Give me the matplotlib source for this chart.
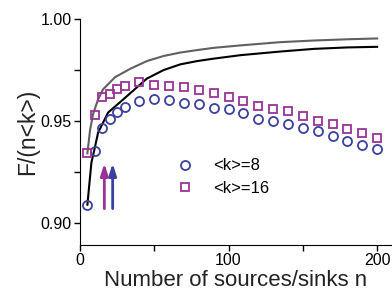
import matplotlib
matplotlib.use("Agg")
import matplotlib.pyplot as plt
from matplotlib.ticker import MultipleLocator

plt.rcParams['font.family'] = ['Liberation Sans', 'DejaVu Sans']

# <k>=8 (circles)
n8 = [5, 10, 15, 20, 25, 30, 40, 50, 60, 70, 80, 90, 100, 110, 120, 130, 140, 150, 160, 170, 180, 190, 200]
f8 = [0.9088, 0.935, 0.9463, 0.9508, 0.9543, 0.957, 0.9595, 0.9608, 0.960, 0.9588, 0.9582, 0.9562,
      0.9557, 0.9538, 0.9508, 0.950, 0.9486, 0.9466, 0.9448, 0.9423, 0.9399, 0.9382, 0.9363]

# <k>=16 (squares)
n16 = [5, 10, 15, 20, 25, 30, 40, 50, 60, 70, 80, 90, 100, 110, 120, 130, 140, 150, 160, 170, 180, 190, 200]
f16 = [0.934, 0.9529, 0.9619, 0.9629, 0.9658, 0.9673, 0.969, 0.9678, 0.9673, 0.9667, 0.9652, 0.9637,
       0.9616, 0.9598, 0.9574, 0.956, 0.9546, 0.9523, 0.9499, 0.9485, 0.946, 0.944, 0.9415]

# upper (gray) curve
n_gray = [5, 6.8, 8.8, 12.2, 15.5, 23.6, 33.8, 45, 56.3, 67.6, 78.8, 90, 108, 135, 157.6, 180, 200]
f_gray = [0.934, 0.9455, 0.9532, 0.9605, 0.9654, 0.9714, 0.9755, 0.9793, 0.9818, 0.9835, 0.9847,
          0.9858, 0.987, 0.9886, 0.9894, 0.990, 0.9904]

# lower (black) curve
n_black = [5, 7.7, 9.7, 12.2, 18.9, 27.9, 45, 56.3, 67.6, 78.8, 90, 108, 135, 157.6, 180, 200]
f_black = [0.9088, 0.9295, 0.9358, 0.9442, 0.954, 0.9597, 0.9707, 0.9749, 0.9777, 0.9793, 0.9805,
           0.9822, 0.984, 0.9853, 0.986, 0.9863]

# arrows marking n*
arrow_n = [16.4, 22.0]
arrow_colors = ["#993399", "#3b3f9e"]
arrow_from, arrow_to = 0.9055, 0.9305

blue = "#3b3f9e"
purple = "#993399"

fig = plt.figure(figsize=(3.92, 2.91), dpi=100)
ax = fig.add_axes([0.204, 0.158, 0.796, 0.777])

ax.plot(n_gray, f_gray, color="#5f6060", lw=1.5)
ax.plot(n_black, f_black, color="black", lw=1.5)
ax.plot(n8, f8, ls="none", marker="o", ms=6.5, mfc="none", mec=blue, mew=1.3, label="<k>=8")
ax.plot(n16, f16, ls="none", marker="s", ms=6, mfc="none", mec=purple, mew=1.3, label="<k>=16")

for x, c in zip(arrow_n, arrow_colors):
    ax.annotate("", xy=(x, arrow_to), xytext=(x, arrow_from),
                arrowprops=dict(arrowstyle="-|>,head_length=0.7,head_width=0.22", color=c, lw=2))

ax.set_xlim(0, 210)
ax.set_ylim(0.889, 1.0)
ax.xaxis.set_major_locator(MultipleLocator(100))
ax.xaxis.set_minor_locator(MultipleLocator(50))
ax.yaxis.set_major_locator(MultipleLocator(0.05))
ax.yaxis.set_minor_locator(MultipleLocator(0.025))
ax.yaxis.set_major_formatter(matplotlib.ticker.FormatStrFormatter("%.2f"))
ax.tick_params(which="both", direction="out", length=4, width=1, labelsize=11.5, colors="black", pad=2)
ax.spines["top"].set_visible(False)
ax.spines["right"].set_visible(False)

ax.set_xlabel("Number of sources/sinks n", fontsize=16, color="#222222", labelpad=1)
ax.set_ylabel("F/(n<k>)", fontsize=16.5, color="#222222", labelpad=1)

ax.legend(loc="center left", bbox_to_anchor=(0.235, 0.3), frameon=False, fontsize=12,
          handletextpad=0.7, labelspacing=0.45)

fig.savefig("out.png", dpi=100)
